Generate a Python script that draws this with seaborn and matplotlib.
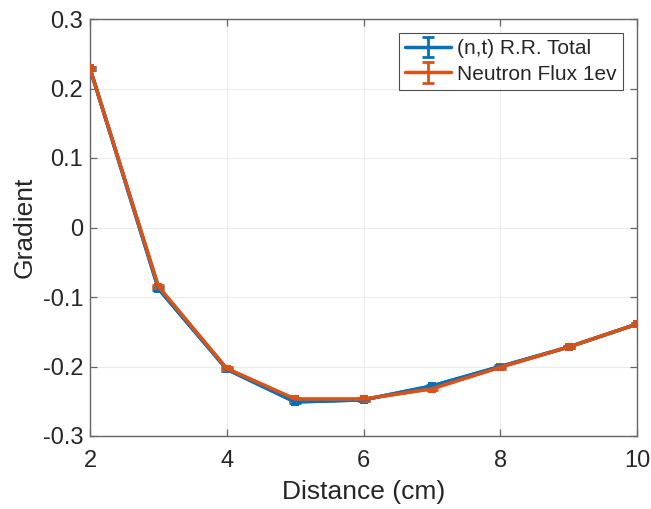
import numpy as np
import pandas as pd
import matplotlib
matplotlib.use("Agg")
import matplotlib.pyplot as plt
import seaborn as sns

distance = [2, 3, 4, 5, 6, 7, 8, 9, 10]
rr_total = [0.229, -0.088, -0.204, -0.251, -0.248, -0.228, -0.200, -0.172, -0.139]
flux_1ev = [0.229, -0.085, -0.203, -0.247, -0.247, -0.232, -0.201, -0.172, -0.139]
rr_err = [0.002] * 9
flux_err = [0.002] * 9
series_names = ["(n,t) R.R. Total", "Neutron Flux 1ev"]
colors = ["#0072BD", "#D95319"]

sns.set_theme(style="whitegrid")
plt.rcParams["font.family"] = ["Liberation Sans", "DejaVu Sans"]

fig = plt.figure(figsize=(6.51, 5.09), dpi=100)
ax = fig.add_axes([90/651, 1-436/509, (637-90)/651, (436-19)/509])

df = pd.DataFrame({
    "Distance": distance * 2,
    "Gradient": rr_total + flux_1ev,
    "Series": [series_names[0]] * 9 + [series_names[1]] * 9,
})
sns.lineplot(data=df, x="Distance", y="Gradient", hue="Series",
             palette=colors, linewidth=2.5, legend=False, ax=ax, zorder=3,
             marker="s", markersize=6, markeredgewidth=0)

for vals, errs, c, name in zip([rr_total, flux_1ev], [rr_err, flux_err], colors, series_names):
    ax.errorbar(distance, vals, yerr=errs, color=c, linewidth=2.5, linestyle="-",
                capsize=4, elinewidth=2, capthick=2, label=name, zorder=4)

ax.set_xlim(2, 10)
ax.set_ylim(-0.3, 0.3)
ax.set_xticks([2, 4, 6, 8, 10])
ax.set_yticks(np.round(np.arange(-0.3, 0.31, 0.1), 1))
ax.set_yticklabels(["-0.3", "-0.2", "-0.1", "0", "0.1", "0.2", "0.3"])
ax.set_facecolor("white")
ax.grid(True, color="#ebebeb", linewidth=0.8)
for s in ax.spines.values():
    s.set_visible(True)
    s.set_color("#666666")
    s.set_linewidth(1.0)
ax.tick_params(axis="both", which="both", direction="in", length=5, width=0.9,
               color="#666666", labelsize=17, labelcolor="#262626",
               top=True, right=True, bottom=True, left=True)
ax.tick_params(axis="x", pad=10)
ax.tick_params(axis="y", pad=5)
ax.set_xlabel("Distance (cm)", fontsize=19, color="#262626", labelpad=6)
ax.set_ylabel("Gradient", fontsize=19, color="#262626", labelpad=4)

leg = ax.legend(loc="upper right", fontsize=15, frameon=True, fancybox=False,
                edgecolor="#4d4d4d", framealpha=1, borderpad=0.3,
                handlelength=2.2, handletextpad=0.3, labelspacing=0.3,
                borderaxespad=0)
leg.set_bbox_to_anchor(((623-90)/547, (436-33)/417), transform=ax.transAxes)
leg.get_frame().set_linewidth(0.8)

fig.savefig("out.png", dpi=100, facecolor="white")
